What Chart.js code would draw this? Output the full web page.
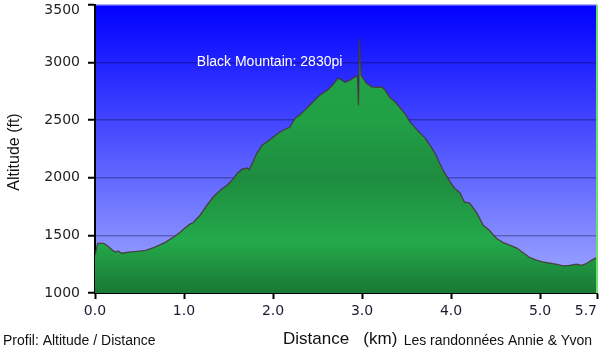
<!DOCTYPE html>
<html>
<head>
<meta charset="utf-8">
<script src="https://cdn.jsdelivr.net/npm/chart.js@4/dist/chart.umd.min.js"></script>
<style>
  html, body { margin: 0; padding: 0; background: #fff; }
  #wrap { width: 600px; height: 354px; position: relative; }
</style>
</head>
<body>
<div id="wrap"><canvas id="profileChart"></canvas></div>
<script>
// Elevation profile data
const distKm = [0.0, 0.03, 0.10, 0.14, 0.20, 0.23, 0.26, 0.30, 0.38, 0.45, 0.57, 0.68, 0.79, 0.90, 0.96,
  1.01, 1.07, 1.10, 1.18, 1.26, 1.33, 1.41, 1.49, 1.54, 1.60, 1.65, 1.71, 1.73, 1.77, 1.82, 1.88, 1.93, 1.99,
  2.08, 2.19, 2.25, 2.30, 2.38, 2.45, 2.53, 2.61, 2.67, 2.73, 2.77, 2.81, 2.87, 2.92, 2.95, 2.96, 2.97, 2.99,
  3.05, 3.11, 3.17, 3.22, 3.26, 3.31, 3.37, 3.42, 3.48, 3.54, 3.59, 3.65, 3.71, 3.76, 3.82, 3.87, 3.93, 3.99,
  4.04, 4.10, 4.15, 4.21, 4.29, 4.36, 4.43, 4.51, 4.58, 4.66, 4.74, 4.80, 4.88, 4.96,
  5.03, 5.11, 5.18, 5.26, 5.33, 5.41, 5.47, 5.53, 5.58, 5.63];
const altFt = [1330, 1430, 1430, 1410, 1370, 1355, 1365, 1345, 1355, 1360, 1370, 1400, 1440, 1495, 1530,
  1565, 1600, 1610, 1675, 1765, 1835, 1895, 1940, 1980, 2040, 2075, 2085, 2070, 2130, 2215, 2285, 2310, 2345,
  2400, 2440, 2520, 2545, 2605, 2660, 2720, 2760, 2805, 2865, 2850, 2830, 2850, 2875, 2880, 2630, 3210, 2890,
  2820, 2790, 2785, 2790, 2760, 2700, 2660, 2615, 2560, 2485, 2440, 2390, 2345, 2285, 2215, 2130, 2040, 1965,
  1910, 1870, 1790, 1780, 1695, 1590, 1545, 1475, 1440, 1415, 1390, 1355, 1310, 1285,
  1270, 1260, 1250, 1235, 1240, 1250, 1240, 1260, 1285, 1305];

const xMax = 5.64;
const xTickValues = [0, 1, 2, 3, 4, 5, xMax];
const xTickLabels = ['0.0', '1.0', '2.0', '3.0', '4.0', '5.0', '5.7     '];
const yMin = 1000, yMax = 3500, yStep = 500;

const peakKm = 2.97;
const peakLabel = 'Black Mountain: 2830pi';

// plot background + overlay texts
const decorPlugin = {
    id: 'decor',
    beforeDraw(chart) {
        const { ctx, chartArea: a } = chart;
        const g = ctx.createLinearGradient(0, a.top, 0, a.bottom);
        g.addColorStop(0, '#0000ff');
        g.addColorStop(1, '#a3adff');
        ctx.save();
        ctx.fillStyle = g;
        ctx.fillRect(a.left, a.top, a.right - a.left, a.bottom - a.top);
        ctx.restore();
    },
    afterDraw(chart) {
        const { ctx, chartArea: a, scales } = chart;
        ctx.save();
        // green marker at end of track
        ctx.strokeStyle = '#6ee06e';
        ctx.lineWidth = 2;
        ctx.beginPath();
        ctx.moveTo(a.right, a.top);
        ctx.lineTo(a.right, a.bottom);
        ctx.stroke();

        // peak label
        ctx.fillStyle = '#ffffff';
        ctx.font = '14px "Liberation Sans", Arial, sans-serif';
        ctx.textAlign = 'right';
        ctx.textBaseline = 'middle';
        ctx.fillText(peakLabel, scales.x.getPixelForValue(peakKm) - 17, scales.y.getPixelForValue(3000));

        // axis titles + footer
        ctx.fillStyle = '#111';
        ctx.font = '14px "Liberation Sans", Arial, sans-serif';
        ctx.textAlign = 'left';
        ctx.fillText('Profil: Altitude / Distance', 3, 341);
        ctx.textAlign = 'right';
        ctx.fillText('Les randonnées Annie & Yvon', 592, 341);
        ctx.font = '17px "Liberation Sans", Arial, sans-serif';
        ctx.textAlign = 'left';
        ctx.fillText('Distance   (km)', 283, 339);

        ctx.translate(15, 152);
        ctx.rotate(-Math.PI / 2);
        ctx.textAlign = 'center';
        ctx.font = '16px "Liberation Sans", Arial, sans-serif';
        ctx.fillText('Altitude (ft)', 0, 0);
        ctx.restore();
    }
};

function greenFill(context) {
    const a = context.chart.chartArea;
    if (!a) return '#22a84a';
    const g = context.chart.ctx.createLinearGradient(0, a.top, 0, a.bottom);
    g.addColorStop(0, '#22a84a');
    g.addColorStop(0.4, '#21a046');
    g.addColorStop(0.6, '#1e8c3f');
    g.addColorStop(0.82, '#23aa4b');
    g.addColorStop(1, '#1a7834');
    return g;
}

const ctx = document.getElementById('profileChart').getContext('2d');
new Chart(ctx, {
    type: 'line',
    data: {
        datasets: [{
            data: distKm.map((d, i) => ({ x: d, y: altFt[i] })),
            borderColor: 'rgba(70, 50, 50, 0.85)',
            borderWidth: 1.3,
            backgroundColor: greenFill,
            fill: 'start',
            pointRadius: 0,
            tension: 0
        }]
    },
    options: {
        responsive: true,
        maintainAspectRatio: false,
        animation: false,
        layout: { padding: { top: 5, right: 3, left: 0, bottom: 0 } },
        plugins: {
            legend: { display: false },
            tooltip: { enabled: false }
        },
        scales: {
            x: {
                type: 'linear',
                min: 0,
                max: xMax,
                z: 1,
                afterBuildTicks: scale => {
                    scale.ticks = xTickValues.map(v => ({ value: v }));
                },
                afterFit: scale => {
                    scale.height = 61;
                    scale.paddingLeft = 0;
                    scale.paddingRight = 0;
                },
                ticks: {
                    autoSkip: false,
                    maxRotation: 0,
                    padding: 4,
                    color: '#1c1c30',
                    font: { family: 'DejaVu Sans', size: 14 },
                    callback: (value, i) => xTickLabels[i]
                },
                grid: {
                    drawOnChartArea: false,
                    tickLength: 6,
                    tickColor: '#000',
                    tickWidth: 2
                },
                border: { display: true, color: '#000', width: 2 }
            },
            y: {
                min: yMin,
                max: yMax,
                z: 1,
                afterFit: scale => {
                    scale.width = 95;
                    scale.paddingTop = 0;
                    scale.paddingBottom = 0;
                },
                ticks: {
                    stepSize: yStep,
                    padding: 8,
                    color: '#222',
                    font: { family: 'DejaVu Sans', size: 14, lineHeight: 0.8 },
                    // top label is pushed down so it stays inside the canvas
                    callback: value => value === yMax ? ['', String(value)] : String(value)
                },
                grid: {
                    color: c => c.tick && c.tick.value === yMax ? '#a8a8ff' : 'rgba(0, 0, 40, 0.3)',
                    lineWidth: 1.5,
                    tickLength: 7,
                    tickColor: '#000',
                    tickWidth: 2
                },
                border: { display: true, color: '#000', width: 2 }
            }
        }
    },
    plugins: [decorPlugin]
});
</script>
</body>
</html>
